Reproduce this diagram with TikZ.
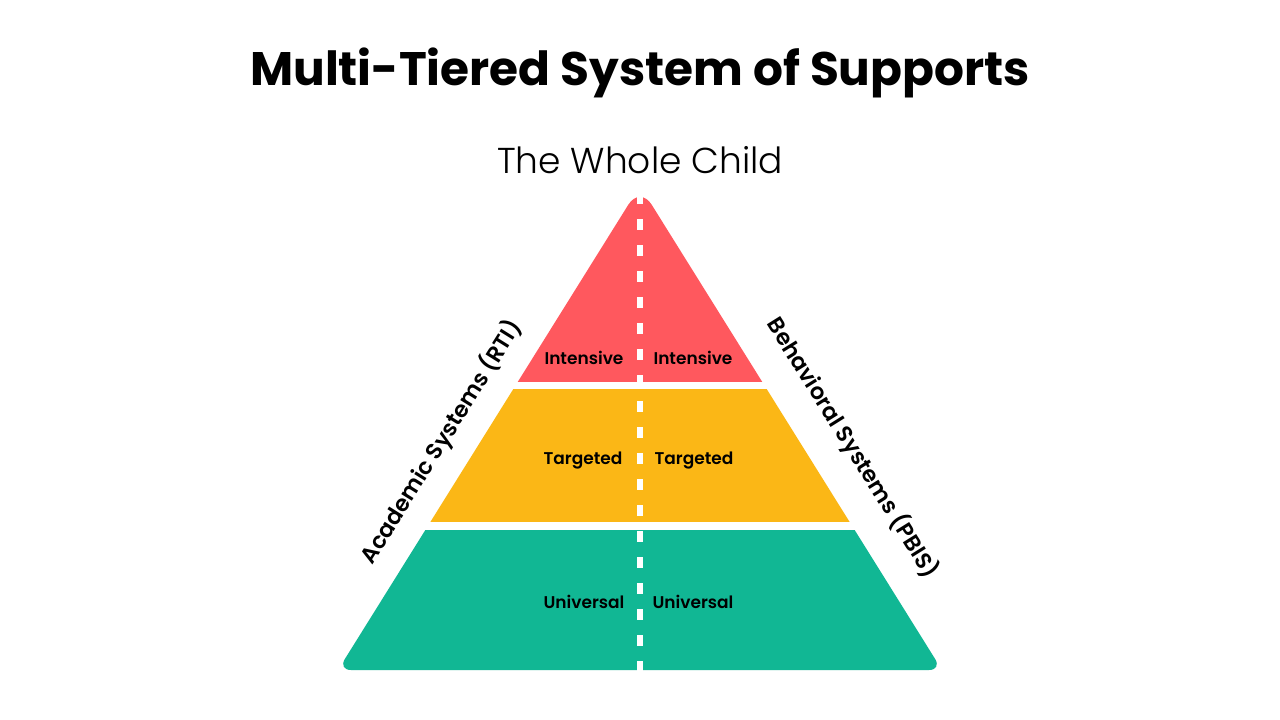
\documentclass[tikz,border=0pt]{standalone}
\usepackage{fontspec}
\setmainfont{Poppins}
\newfontfamily\lightfont{Poppins Light}
\newfontfamily\semifont{Poppins SemiBold}
\definecolor{tierred}{RGB}{255,88,94}
\definecolor{tieryellow}{RGB}{251,183,22}
\definecolor{tiergreen}{RGB}{17,183,148}
\begin{document}
\begin{tikzpicture}[x=1pt,y=-1pt,
  tierlabel/.style={inner sep=0pt, font=\semifont\fontsize{17}{17}\selectfont},
  sidelabel/.style={inner sep=0pt, font=\semifont\fontsize{22.5}{22.5}\selectfont},
  divider/.style={white, line width=6pt, dash pattern=on 11pt off 15pt}]
\useasboundingbox (0,0) rectangle (1280,720);
\fill[white] (0,0) rectangle (1280,720);
% title
\node[inner sep=0pt, font=\bfseries\fontsize{47}{47}\selectfont] (title) at (640,73) {Multi-Tiered System of Supports};
\node[inner sep=0pt, font=\lightfont\fontsize{36}{36}\selectfont] (sub) at (640,160) {The Whole Child};
% pyramid
\begin{scope}
\clip (640,670) [rounded corners=13pt] -- (338,670) [rounded corners=22pt] -- (640,186) [rounded corners=13pt] -- (942,670) -- cycle;
\fill[tierred] (300,150) rectangle (980,382);
\fill[tieryellow] (300,389) rectangle (980,522);
\fill[tiergreen] (300,530) rectangle (980,700);
\end{scope}
\coordinate (dtop) at (640,193);
\coordinate (dbot) at (640,672);
\draw[divider] (dtop) -- (dbot);
% tier labels
\node[tierlabel] (i1) at (584,358) {Intensive};
\node[tierlabel] (i2) at (693,358) {Intensive};
\node[tierlabel] (t1) at (583,461) {Targeted};
\node[tierlabel] (t2) at (694,461) {Targeted};
\node[tierlabel] (u1) at (584,602) {Universal};
\node[tierlabel] (u2) at (693,602) {Universal};
% side labels
\node[sidelabel, rotate=58] (acad) at (441,442) {Academic Systems (RTI)};
\node[sidelabel, rotate=-58] (behav) at (853,448) {Behavioral Systems (PBIS)};
\end{tikzpicture}
\end{document}
